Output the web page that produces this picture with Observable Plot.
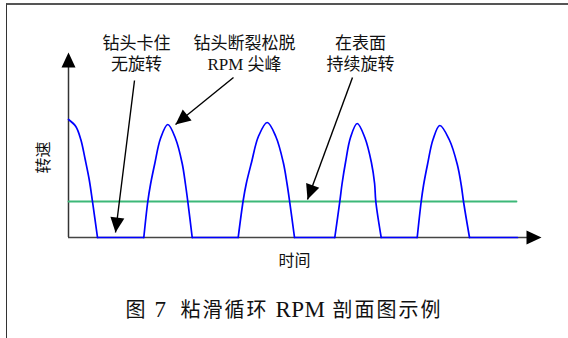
<!DOCTYPE html>
<html>
<head>
<meta charset="utf-8">
<script src="https://cdn.jsdelivr.net/npm/d3@7"></script>
<script src="https://cdn.jsdelivr.net/npm/@observablehq/plot@0.6"></script>
<style>
  html, body { margin: 0; padding: 0; background: #fff; overflow: hidden; }
  #wrap { position: relative; width: 568px; height: 338px; }
  #frame { position: absolute; left: 6px; top: 3px; width: 700px; height: 500px;
           border-top: 2px solid #555; border-left: 1.5px solid #333; box-sizing: border-box; }
  #chart { position: absolute; left: 0; top: 0; }
  #caption { position: absolute; left: 0; top: 298px; width: 568px; text-align: center;
             font-family: "Liberation Serif", "Noto Sans CJK SC", serif; font-size: 20px;
             letter-spacing: 2px; color: #111; line-height: 24px; white-space: pre; }
  #caption .lat { font-size: 23px; letter-spacing: 0.5px; }
</style>
</head>
<body>
<div id="wrap">
  <div id="frame"></div>
  <div id="chart"></div>
  <div id="caption"></div>
</div>
<script>
// ---- data (time and RPM in arbitrary units) ----
const xLabel = "时间";
const yLabel = "转速";
const captionText = "图 7  粘滑循环 RPM 剖面图示例";

// arches of RPM (stick-slip spikes)
const archT = [
  [0, 7.3, 12.3, 16.7, 20.7, 24, 29],
  [75.3, 79.3, 82, 86.3, 92, 99.3, 107, 113.7, 117, 119.3, 123.7],
  [169.7, 174.7, 177.8, 183, 189.9, 198.7, 207.3, 214.8, 218.5, 221, 226],
  [266.3, 271.3, 273.6, 277, 282, 288.7, 296.3, 302.9, 306.1, 307.3, 312.7],
  [348.7, 352.7, 355, 359, 364.5, 371.3, 380.7, 388.8, 392.8, 395, 401]
];
const archR = [
  [118, 111, 98, 78, 58, 36, 0],
  [0, 36, 53, 74, 99, 113, 99, 74, 53, 36, 0],
  [0, 37, 54, 75, 101, 115, 101, 75, 54, 37, 0],
  [0, 36, 54, 75, 100, 114, 100, 75, 54, 36, 0],
  [0, 36, 52, 73, 98, 112, 98, 73, 52, 36, 0]
];
// stuck periods (zero RPM)
const stuckStart = [29, 123.7, 226, 312.7, 401];
const stuckEnd   = [75.3, 169.7, 266.3, 348.7, 449];

// constant surface rotation
const surfaceRpm = 36;
const surfaceT = [0, 448];

// axis extents
const xMax = 473;
const yMax = 185;

// annotations
const annTexts = ["钻头卡住\n无旋转", "钻头断裂松脱\nRPM 尖峰", "在表面\n持续旋转"];
const annX = [68, 176, 292];
const annY = [184.5, 184.5, 184.5];
const arrowFromX = [66, 165, 284];
const arrowFromY = [157, 160, 160];
const arrowToX = [47, 107, 239];
const arrowToY = [5, 113, 38];

// ---- build tables ----
const profile = [];
archT.forEach((ts, i) => ts.forEach((t, j) => profile.push({t, r: archR[i][j], seg: "a" + i})));
stuckStart.forEach((s, i) => {
  profile.push({t: s, r: 0, seg: "f" + i});
  profile.push({t: stuckEnd[i], r: 0, seg: "f" + i});
});
const annotations = annTexts.map((text, i) => ({text, t: annX[i], r: annY[i]}));
const arrows = arrowFromX.map((x, i) => ({x1: x, y1: arrowFromY[i], x2: arrowToX[i], y2: arrowToY[i]}));
const heads = arrows.map(a => ({t: a.x2, r: a.y2, angle: Math.atan2(a.x2 - a.x1, a.y2 - a.y1) * 180 / Math.PI}));
heads.push({t: 0, r: yMax, angle: 0});
heads.push({t: xMax, r: 0, angle: 90});

const headSymbol = {
  draw(ctx) {
    ctx.moveTo(0, 0);
    ctx.lineTo(-7, 15);
    ctx.lineTo(7, 15);
    ctx.closePath();
  }
};

const font = '"Liberation Serif", "Noto Sans CJK SC", serif';

const chart = Plot.plot({
  width: 568,
  height: 285,
  marginLeft: 68,
  marginRight: 27,
  marginTop: 52,
  marginBottom: 48,
  style: {fontFamily: font, background: "transparent", overflow: "visible"},
  x: {domain: [0, xMax], axis: null},
  y: {domain: [0, yMax], axis: null},
  marks: [
    Plot.ruleX([0], {y1: 0, y2: yMax - 5, stroke: "#333", strokeWidth: 1.5}),
    Plot.ruleY([0], {x1: 0, x2: xMax - 5, stroke: "#444", strokeWidth: 1.5}),
    Plot.line(surfaceT.map(t => ({t, r: surfaceRpm})), {x: "t", y: "r", stroke: "#3cb878", strokeWidth: 1.8}),
    Plot.line(profile, {x: "t", y: "r", z: "seg", curve: "catmull-rom", stroke: "#0000ff", strokeWidth: 1.7}),
    Plot.link(arrows, {x1: "x1", y1: "y1", x2: "x2", y2: "y2", stroke: "#000", strokeWidth: 1.4}),
    Plot.dot(heads, {x: "t", y: "r", rotate: "angle", symbol: headSymbol, fill: "#000", stroke: null, r: 7}),
    Plot.text(annotations, {x: "t", y: "r", text: "text", fontSize: 17, lineHeight: 1.25, fill: "#111", textAnchor: "middle", lineAnchor: "middle"}),
    Plot.text([yLabel], {x: -25, y: 80, text: d => d, rotate: -90, fontSize: 16, fill: "#111"}),
    Plot.text([xLabel], {x: 226, y: -23, text: d => d, fontSize: 16, fill: "#111"})
  ]
});
document.getElementById("chart").appendChild(chart);

// caption: Latin runs slightly larger, as in the reference
const cap = document.getElementById("caption");
captionText.split(/([A-Za-z0-9]+)/).forEach(part => {
  if (!part) return;
  if (/^[A-Za-z0-9]+$/.test(part)) {
    const s = document.createElement("span");
    s.className = "lat";
    s.textContent = part;
    cap.appendChild(s);
  } else {
    cap.appendChild(document.createTextNode(part));
  }
});
</script>
</body>
</html>
